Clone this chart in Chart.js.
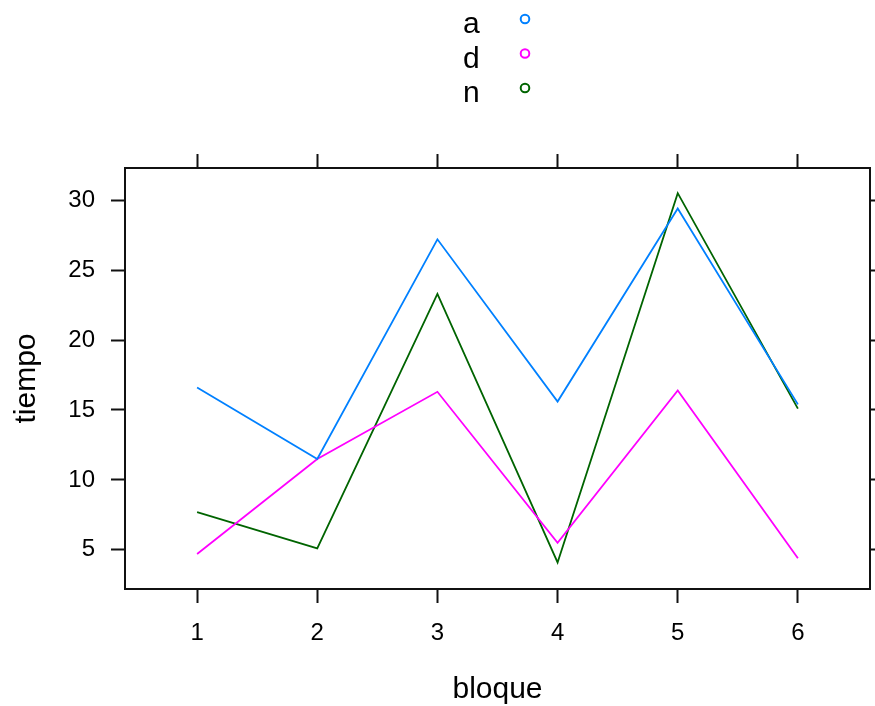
<!DOCTYPE html>
<html>
<head>
<meta charset="utf-8">
<script src="https://cdn.jsdelivr.net/npm/chart.js@4"></script>
<style>
    html, body { margin: 0; padding: 0; background: #fff; }
    #wrap { width: 875px; height: 706px; }
</style>
</head>
<body>
<div id="wrap"><canvas id="plot" width="875" height="706"></canvas></div>
<script>
// Data
const bloques = [1, 2, 3, 4, 5, 6];
const yTicks = [5, 10, 15, 20, 25, 30];
const grupos = ['a', 'd', 'n'];
const tiempoA = [16.6, 11.5, 27.2, 15.6, 29.4, 15.4];
const tiempoD = [4.7, 11.5, 16.3, 5.5, 16.4, 4.4];
const tiempoN = [7.7, 5.1, 23.3, 4.1, 30.5, 15.1];
const colores = ['#0080ff', '#ff00ff', '#006400'];

const FONT = '"Liberation Sans", Arial, sans-serif';

function toPoints(values) {
    return values.map((v, i) => ({ x: bloques[i], y: v }));
}

function fixedTicks(list) {
    return function(scale) {
        scale.ticks = list.map(v => ({ value: v }));
    };
}

// lattice style key: label on the left, open circle on the right
const keyPlugin = {
    id: 'latticeKey',
    afterDraw(chart) {
        const ctx = chart.ctx;
        ctx.save();
        ctx.font = '30px ' + FONT;
        ctx.textAlign = 'left';
        ctx.textBaseline = 'alphabetic';
        grupos.forEach((g, i) => {
            const y = 33 + i * 34.5;
            ctx.fillStyle = '#000';
            ctx.fillText(g, 463, y);
            ctx.beginPath();
            ctx.arc(525, y - 14, 4.3, 0, Math.PI * 2);
            ctx.strokeStyle = colores[i];
            ctx.lineWidth = 2;
            ctx.stroke();
        });
        ctx.restore();
    }
};

function axisGrid() {
    return {
        drawOnChartArea: false,
        drawTicks: true,
        tickLength: 14,
        tickWidth: 2,
        tickColor: '#111'
    };
}

const border = { display: true, color: '#111', width: 2 };

const datasets = [tiempoA, tiempoD, tiempoN].map((vals, i) => ({
    label: grupos[i],
    data: toPoints(vals),
    borderColor: colores[i],
    backgroundColor: colores[i],
    borderWidth: 1.8,
    pointRadius: 0,
    tension: 0,
    fill: false
}));

new Chart(document.getElementById('plot'), {
    type: 'line',
    data: { datasets: datasets },
    options: {
        responsive: false,
        animation: false,
        events: [],
        layout: { padding: 0 },
        plugins: {
            legend: { display: false },
            tooltip: { enabled: false }
        },
        scales: {
            x: {
                type: 'linear',
                position: 'bottom',
                min: 0.4,
                max: 6.6,
                afterBuildTicks: fixedTicks(bloques),
                afterFit: s => { s.height = 117; },
                grid: axisGrid(),
                border: border,
                ticks: { color: '#000', font: { family: FONT, size: 24 }, padding: 16, maxRotation: 0 },
                title: { display: true, text: 'bloque', color: '#000', font: { family: FONT, size: 30 }, padding: { top: 0, bottom: -2 } }
            },
            x2: {
                type: 'linear',
                position: 'top',
                min: 0.4,
                max: 6.6,
                afterBuildTicks: fixedTicks(bloques),
                afterFit: s => { s.height = 168; },
                grid: axisGrid(),
                border: border,
                ticks: { display: false }
            },
            y: {
                type: 'linear',
                position: 'left',
                min: 2.2,
                max: 32.3,
                afterBuildTicks: fixedTicks(yTicks),
                afterFit: s => { s.width = 125; },
                grid: axisGrid(),
                border: border,
                ticks: { color: '#000', font: { family: FONT, size: 24 }, padding: 16 },
                title: { display: true, text: 'tiempo', color: '#000', font: { family: FONT, size: 30 }, padding: { top: 9, bottom: 0 } }
            },
            y2: {
                type: 'linear',
                position: 'right',
                min: 2.2,
                max: 32.3,
                afterBuildTicks: fixedTicks(yTicks),
                afterFit: s => { s.width = 5; },
                grid: axisGrid(),
                border: border,
                ticks: { display: false }
            }
        }
    },
    plugins: [keyPlugin]
});
</script>
</body>
</html>
